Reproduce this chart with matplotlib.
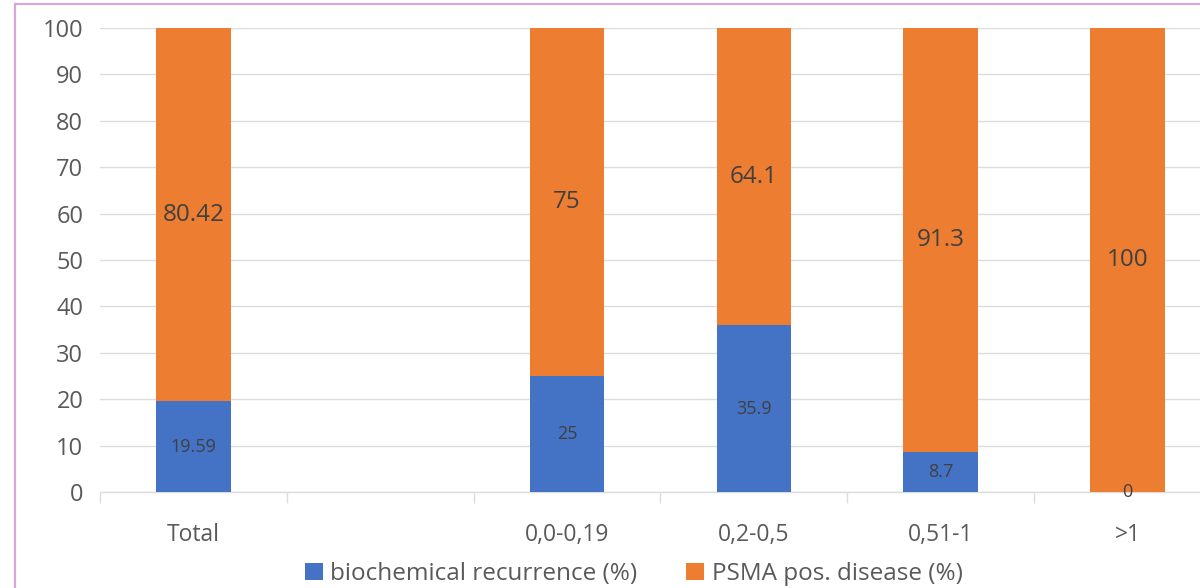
import numpy as np
from matplotlib import pyplot as plt
from matplotlib.lines import Line2D

categories = ["Total", "", "0,0-0,19", "0,2-0,5", "0,51-1", ">1"]
recurrence = [19.59, np.nan, 25, 35.9, 8.7, 0]
psma_pos = [80.42, np.nan, 75, 64.1, 91.3, 100]
recurrence_labels = ["19.59", "", "25", "35.9", "8.7", "0"]
psma_labels = ["80.42", "", "75", "64.1", "91.3", "100"]

blue = "#4472C4"
orange = "#ED7D31"
grid_color = "#DDDDDD"
text_color = "#595959"

plt.rcParams["font.family"] = ["Open Sans", "DejaVu Sans"]

figure = plt.figure(figsize=(12, 5.88), dpi=100)
# axes runs off the right edge, like the cropped original
axes = figure.add_axes([100/1200, 96/588, 1121/1200, 464/588])

x = np.arange(len(categories))
bars_blue = axes.bar(x, recurrence, width=0.4, color=blue, zorder=3,
                     label="biochemical recurrence (%)")
bars_orange = axes.bar(x, psma_pos, width=0.4, bottom=recurrence, color=orange,
                       zorder=3, label="PSMA pos. disease (%)")

for i in range(len(categories)):
  if recurrence_labels[i]:
    axes.text(x[i], recurrence[i]/2, recurrence_labels[i], ha="center", va="center",
              fontsize=13, color="#404040", zorder=4)
  if psma_labels[i]:
    axes.text(x[i], recurrence[i] + psma_pos[i]/2, psma_labels[i], ha="center",
              va="center", fontsize=17.5, color="#404040", zorder=4)

axes.set_xlim(-0.5, len(categories) - 0.5)
axes.set_ylim(0, 100)
axes.set_yticks(np.arange(0, 101, 10))
axes.yaxis.grid(True, color=grid_color, linewidth=1.0, zorder=0)
for side in ["top", "right", "left"]:
  axes.spines[side].set_visible(False)
axes.spines["bottom"].set_color(grid_color)
axes.spines["bottom"].set_linewidth(1.0)

axes.set_xticks(x)
axes.set_xticklabels(categories)
axes.set_xticks(np.arange(-0.5, len(categories), 1), minor=True)
axes.tick_params(axis="x", which="major", length=0, pad=22, labelsize=16.5,
                 labelcolor=text_color)
axes.tick_params(axis="x", which="minor", length=8, width=1.0, color=grid_color)
axes.tick_params(axis="y", length=0, pad=12, labelsize=17, labelcolor=text_color)

legend = figure.legend(handles=[bars_blue, bars_orange], loc="center",
                       bbox_to_anchor=(0.528, 1 - 574/588), ncol=2, frameon=False,
                       fontsize=17.5, handlelength=0.75, handleheight=0.75,
                       handletextpad=0.3, columnspacing=2.0)
for t in legend.get_texts():
  t.set_color(text_color)

# pinkish frame of the original screenshot
border = "#D9A6D9"
figure.add_artist(Line2D([15/1200, 15/1200], [0, 1 - 4/588], color=border,
                         linewidth=1.6, transform=figure.transFigure))
figure.add_artist(Line2D([15/1200, 1], [1 - 4/588, 1 - 4/588], color=border,
                         linewidth=1.6, transform=figure.transFigure))

figure.savefig("out.png", dpi=100)
